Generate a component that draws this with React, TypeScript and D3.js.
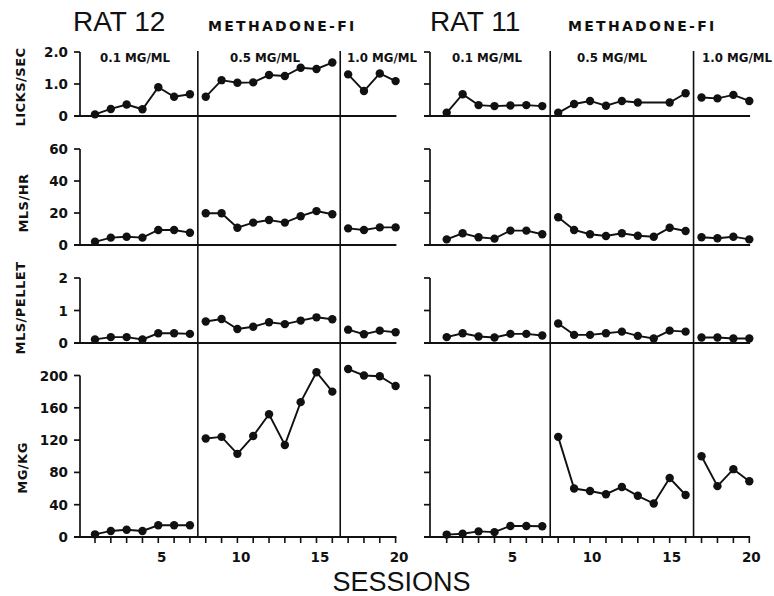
import React from "react";
import * as d3 from "d3";

// ---------- data ----------
const sessions = [1, 2, 3, 4, 5, 6, 7, 8, 9, 10, 11, 12, 13, 14, 15, 16, 17, 18, 19, 20];
const xTickLabels = [5, 10, 15, 20];

const phaseLabels = ["0.1 MG/ML", "0.5 MG/ML", "1.0 MG/ML"];
const phaseStarts = [1, 8, 17];
const phaseEnds = [7, 16, 20];

const measureTitles = ["LICKS/SEC", "MLS/HR", "MLS/PELLET", "MG/KG"];
const licksTicks = [0, 1, 2];
const licksTickLabels = ["0", "1.0", "2.0"];
const mlsHrTicks = [0, 20, 40, 60];
const mlsPelletTicks = [0, 1, 2];
const mgKgTicks = [0, 40, 80, 120, 160, 200];

const rat12Licks = [0.05, 0.22, 0.36, 0.21, 0.9, 0.6, 0.68, 0.6, 1.12, 1.04, 1.05, 1.28, 1.25, 1.51, 1.47, 1.67, 1.3, 0.78, 1.33, 1.09];
const rat12MlsHr = [2, 4.6, 5.2, 4.6, 9.4, 9.4, 7.7, 19.8, 19.8, 10.8, 14, 15.6, 14, 18, 21.2, 19.2, 10.4, 9.4, 11, 11];
const rat12MlsPellet = [0.11, 0.18, 0.18, 0.11, 0.3, 0.3, 0.28, 0.66, 0.74, 0.43, 0.5, 0.64, 0.58, 0.69, 0.79, 0.73, 0.41, 0.27, 0.38, 0.33];
const rat12MgKg = [3.3, 7.5, 9, 7.5, 14.5, 14.5, 14.5, 122, 124, 103, 125, 152, 114, 167, 204, 180, 208, 200, 199, 187];

const rat11Licks = [0.1, 0.68, 0.34, 0.31, 0.33, 0.34, 0.31, 0.1, 0.375, 0.47, 0.32, 0.47, 0.42, null, 0.42, 0.71, 0.58, 0.55, 0.66, 0.47];
const rat11MlsHr = [3.5, 7.3, 4.8, 4, 9, 9, 6.7, 17.3, 9.4, 6.7, 5.6, 7.3, 5.8, 5.2, 10.8, 8.75, 4.8, 4.2, 5.2, 3.5];
const rat11MlsPellet = [0.18, 0.3, 0.2, 0.17, 0.28, 0.28, 0.23, 0.6, 0.25, 0.25, 0.3, 0.35, 0.22, 0.14, 0.38, 0.35, 0.17, 0.17, 0.14, 0.14];
const rat11MgKg = [3, 4, 7, 6, 13.7, 13.7, 13.3, 124, 60, 57, 53, 62, 51, 41.5, 73, 52, 100, 63, 84, 69];

const ratNames = ["RAT 12", "RAT 11"];
const drugLabel = "METHADONE-FI";
const xTitle = "SESSIONS";

// ---------- layout ----------
const W = 774;
const H = 596;
const BOLD = "'DejaVu Sans', sans-serif";
const THIN = "'Liberation Sans', Arial, sans-serif";
const INK = "#111";

type Panel = {
  domain: [number, number];
  range: [number, number];
  ticks: number[];
  labels: string[];
  titleX: number;
  titleY: number;
};

const panels: Panel[] = [
  { domain: [0, 2], range: [116, 52], ticks: licksTicks, labels: licksTickLabels, titleX: 25, titleY: 87 },
  { domain: [0, 60], range: [245, 149], ticks: mlsHrTicks, labels: mlsHrTicks.map(String), titleX: 28, titleY: 203 },
  { domain: [0, 2], range: [343, 278], ticks: mlsPelletTicks, labels: mlsPelletTicks.map(String), titleX: 25, titleY: 308 },
  { domain: [0, 200], range: [537, 375.5], ticks: mgKgTicks, labels: mgKgTicks.map(String), titleX: 27, titleY: 468 },
];

type RatCfg = {
  name: string;
  axisX: number;
  xRange: [number, number];
  data: (number | null)[][];
  showLabels: boolean;
  nameX: number;
  drugX: number;
  phaseX: number[];
  xLabelDx: number;
};

const rats: RatCfg[] = [
  {
    name: ratNames[0],
    axisX: 80,
    xRange: [95, 395.6],
    data: [rat12Licks, rat12MlsHr, rat12MlsPellet, rat12MgKg],
    showLabels: true,
    nameX: 73,
    drugX: 208,
    phaseX: [100, 230, 347],
    xLabelDx: 3.5,
  },
  {
    name: ratNames[1],
    axisX: 430,
    xRange: [446.7, 749.3],
    data: [rat11Licks, rat11MlsHr, rat11MlsPellet, rat11MgKg],
    showLabels: false,
    nameX: 430,
    drugX: 568,
    phaseX: [452, 577, 702],
    xLabelDx: 2,
  },
];

function RatChart({ cfg }: { cfg: RatCfg }) {
  const x = d3.scaleLinear().domain([1, 20]).range(cfg.xRange);
  const dividerTop = 51;
  const bottomY = panels[3].range[0];
  const elems: React.ReactNode[] = [];

  // header texts
  elems.push(
    <text key="name" x={cfg.nameX} y={31} fontFamily={THIN} fontSize={28} fill={INK}>
      {cfg.name}
    </text>
  );
  elems.push(
    <text key="drug" x={cfg.drugX} y={31} fontFamily={BOLD} fontWeight="bold" fontSize={14} letterSpacing={2.3} fill={INK}>
      {drugLabel}
    </text>
  );
  phaseLabels.forEach((lab, i) => {
    elems.push(
      <text key={"ph" + i} x={cfg.phaseX[i]} y={62} fontFamily={BOLD} fontWeight="bold" fontSize={11.8} fill={INK}>
        {lab}
      </text>
    );
  });

  // dividers
  [phaseEnds[0] + 0.5, phaseEnds[1] + 0.5].forEach((s, i) => {
    elems.push(
      <line key={"div" + i} x1={x(s)} x2={x(s)} y1={dividerTop} y2={bottomY} stroke={INK} strokeWidth={1.6} />
    );
  });

  panels.forEach((p, pi) => {
    const y = d3.scaleLinear().domain(p.domain).range(p.range);
    const yTop = y(p.domain[1]);
    const y0 = y(0);
    // y axis
    elems.push(
      <line key={"ya" + pi} x1={cfg.axisX} x2={cfg.axisX} y1={yTop} y2={y0} stroke={INK} strokeWidth={1.7} />
    );
    p.ticks.forEach((t, ti) => {
      if (t !== 0) {
        elems.push(
          <line key={"yt" + pi + "_" + ti} x1={cfg.axisX - 6} x2={cfg.axisX} y1={y(t)} y2={y(t)} stroke={INK} strokeWidth={1.7} />
        );
      }
      if (cfg.showLabels) {
        elems.push(
          <text
            key={"yl" + pi + "_" + ti}
            x={cfg.axisX - 12}
            y={y(t) + 5}
            textAnchor="end"
            fontFamily={BOLD}
            fontWeight="bold"
            fontSize={13.5}
            fill={INK}
          >
            {p.labels[ti]}
          </text>
        );
      }
    });
    // baseline (x axis)
    elems.push(
      <line key={"xa" + pi} x1={cfg.axisX - 6} x2={x(20) + 0.8} y1={y0} y2={y0} stroke={INK} strokeWidth={1.9} />
    );
    if (cfg.showLabels) {
      elems.push(
        <text
          key={"yt" + pi}
          transform={`translate(${p.titleX},${p.titleY}) rotate(-90)`}
          textAnchor="middle"
          fontFamily={BOLD}
          fontWeight="bold"
          fontSize={13}
          letterSpacing={0.5}
          fill={INK}
        >
          {measureTitles[pi]}
        </text>
      );
    }

    // series per phase
    const vals = cfg.data[pi];
    phaseStarts.forEach((st, phi) => {
      const pts = sessions
        .filter((s) => s >= st && s <= phaseEnds[phi])
        .map((s) => ({ s, v: vals[s - 1] }))
        .filter((d) => d.v !== null && d.v !== undefined) as { s: number; v: number }[];
      const line = d3
        .line<{ s: number; v: number }>()
        .x((d) => x(d.s))
        .y((d) => y(d.v));
      elems.push(
        <path key={"ln" + pi + "_" + phi} d={line(pts) || ""} fill="none" stroke={INK} strokeWidth={1.9} />
      );
      pts.forEach((d) => {
        elems.push(
          <circle key={"pt" + pi + "_" + d.s} cx={x(d.s)} cy={y(d.v)} r={4.2} fill={INK} />
        );
      });
    });
  });

  // bottom ticks and labels
  sessions.forEach((s) => {
    elems.push(
      <line key={"bt" + s} x1={x(s)} x2={x(s)} y1={bottomY} y2={bottomY + 6} stroke={INK} strokeWidth={1.6} />
    );
  });
  xTickLabels.forEach((s) => {
    elems.push(
      <text
        key={"bl" + s}
        x={x(s) + cfg.xLabelDx}
        y={562}
        textAnchor="middle"
        fontFamily={BOLD}
        fontWeight="bold"
        fontSize={13.5}
        fill={INK}
      >
        {s}
      </text>
    );
  });

  return <g>{elems}</g>;
}

export default function App() {
  return (
    <svg
      width={W}
      height={H}
      viewBox={`0 0 ${W} ${H}`}
      style={{ position: "absolute", left: 0, top: 0, background: "#fff" }}
    >
      <rect x={0} y={0} width={W} height={H} fill="#fff" />
      {rats.map((r) => (
        <RatChart key={r.name} cfg={r} />
      ))}
      <text x={401.5} y={591} textAnchor="middle" fontFamily={THIN} fontSize={27} fill={INK}>
        {xTitle}
      </text>
    </svg>
  );
}
